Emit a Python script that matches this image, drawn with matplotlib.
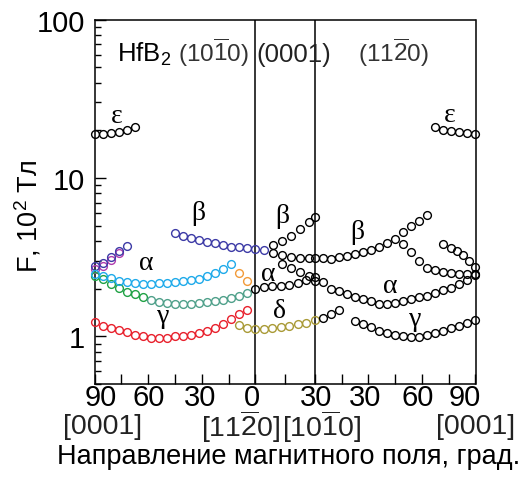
import numpy as np
import matplotlib
matplotlib.use('Agg')
import matplotlib.pyplot as plt
from matplotlib.ticker import FixedLocator, NullFormatter, FixedFormatter, LogLocator
from matplotlib.transforms import ScaledTranslation

plt.rcParams['font.family'] = ['Liberation Sans', 'DejaVu Sans']
plt.rcParams['mathtext.fontset'] = 'custom'
plt.rcParams['mathtext.rm'] = 'Liberation Sans'
plt.rcParams['mathtext.it'] = 'Liberation Sans:italic'
plt.rcParams['mathtext.bf'] = 'Liberation Sans:bold'

# ---------------- data (angle in degrees within each segment, F in 10^2 T) ----
# L: [0001] (90) -> [11-20] (0) ; M: [11-20] (0) -> [10-10] (30) ; R: [10-10] (0) -> [0001] (90)
eps_L_ang = [90, 85.5, 81, 76.5, 72, 67.5]
eps_L_F = [19.0, 19.0, 19.2, 19.5, 20.0, 21.0]
eps_R_ang = [67.5, 72, 76.5, 81, 85.5, 90]
eps_R_F = [21.0, 20.2, 19.7, 19.5, 19.3, 19.1]

beta_blue_L_ang = [45, 40.5, 36, 31.5, 27, 22.5, 18, 13.5, 9, 4.5, 0]
beta_blue_L_F = [4.51, 4.30, 4.17, 4.07, 3.97, 3.86, 3.75, 3.69, 3.66, 3.62, 3.57]
beta_blue_M_ang = [4.5]
beta_blue_M_F = [3.52]

beta90_blue_ang = [90, 85.5, 81, 76.5, 72]
beta90_blue_F = [2.78, 2.92, 3.19, 3.44, 3.73]
beta90_mag_ang = [90, 85.5, 81, 76.5]
beta90_mag_F = [2.68, 2.80, 3.04, 3.34]

alpha_cyan_ang = [90, 85.5, 81, 76.5, 72, 67.5, 63, 58.5, 54, 49.5, 45, 40.5, 36, 31.5, 27, 22.5, 18, 13.5]
alpha_cyan_F = [2.48, 2.41, 2.33, 2.24, 2.19, 2.16, 2.15, 2.15, 2.16, 2.18, 2.19, 2.23, 2.26, 2.31, 2.40, 2.51, 2.67, 2.87]
orange_ang = [9, 4.5]
orange_F = [2.50, 2.25]

green_ang = [90, 85.5, 81, 76.5, 72, 67.5, 63]
green_F = [2.41, 2.31, 2.15, 2.03, 1.91, 1.84, 1.76]
teal_ang = [58.5, 54, 49.5, 45, 40.5, 36, 31.5, 27, 22.5, 18, 13.5, 9, 4.5]
teal_F = [1.70, 1.64, 1.62, 1.60, 1.60, 1.60, 1.62, 1.64, 1.66, 1.70, 1.74, 1.81, 1.88]

gamma_red_ang = [90, 85.5, 81, 76.5, 72, 67.5, 63, 58.5, 54, 49.5, 45, 40.5, 36, 31.5, 27, 22.5, 18, 13.5, 9, 4.5]
gamma_red_F = [1.23, 1.17, 1.13, 1.10, 1.063, 1.026, 1.003, 0.978, 0.974, 0.978, 1.003, 1.012, 1.022, 1.052,
               1.088, 1.127, 1.20, 1.29, 1.39, 1.47]

delta_L_ang = [9, 4.5, 0]
delta_L_F = [1.18, 1.13, 1.11]
delta_M_ang = [4.3, 8.6, 12.9, 17.1, 21.4, 25.7, 30]
delta_M_F = [1.115, 1.13, 1.148, 1.17, 1.19, 1.22, 1.26]
delta_R_ang = [4.5, 9, 13.5]
delta_R_F = [1.31, 1.39, 1.47]

beta_M_ang = [9, 13.5, 18, 22.5, 27, 30]
beta_M_F = [3.80, 4.03, 4.30, 4.78, 5.27, 5.66]
flat_M_ang = [9, 13.5, 18, 22.5, 27, 30]
flat_M_F = [3.37, 3.25, 3.16, 3.13, 3.12, 3.12]
alpha2_M_ang = [13.5, 18, 22.5, 27, 30]
alpha2_M_F = [2.87, 2.70, 2.54, 2.42, 2.25]
alpha_M_ang = [0, 4.3, 8.6, 12.9, 17.1, 21.4, 25.7, 30]
alpha_M_F = [2.00, 2.04, 2.07, 2.09, 2.11, 2.17, 2.26, 2.38]

beta_R_ang = [4.5, 9, 13.5, 18, 22.5, 27, 31.5, 36, 40.5, 45, 49.5, 54, 58.5, 63]
beta_R_F = [3.12, 3.09, 3.19, 3.24, 3.32, 3.40, 3.53, 3.66, 3.90, 4.09, 4.55, 5.01, 5.39, 5.80]
beta3_R_ang = [49.5, 54, 58.5, 63, 67.5, 72, 76.5, 81, 85.5, 90]
beta3_R_F = [3.84, 3.42, 3.00, 2.71, 2.61, 2.56, 2.52, 2.48, 2.46, 2.48]
betaC_R_ang = [72, 76, 79.5, 83, 86.5, 90]
betaC_R_F = [3.81, 3.62, 3.47, 3.27, 3.00, 2.74]
alpha_R_ang = [4.5, 9, 13.5, 18, 22.5, 27, 31.5, 36, 40.5, 45, 49.5, 54, 58.5, 63, 67.5, 72, 76.5, 81, 85.5, 90]
alpha_R_F = [2.20, 2.00, 1.92, 1.86, 1.78, 1.73, 1.66, 1.60, 1.60, 1.63, 1.67, 1.73, 1.77, 1.81, 1.87, 1.95,
             2.02, 2.13, 2.28, 2.45]
gamma_R_ang = [22.5, 27, 31.5, 36, 40.5, 45, 49.5, 54, 58.5, 63, 67.5, 72, 76.5, 81, 85.5, 90]
gamma_R_F = [1.258, 1.20, 1.143, 1.088, 1.052, 1.026, 1.003, 0.986, 0.993, 1.022, 1.052, 1.083, 1.127, 1.17,
             1.217, 1.262]

x_tick_labels = ['90', '60', '30', '0', '30', '30', '60', '90']
dir_labels = ['[0001]', r'[11$\overline{2}$0]', r'[10$\overline{1}$0]', '[0001]']

# ---------------- geometry of the composite angle axis --------------------
KMID = 1.11


def xpos(seg, ang):
    ang = np.asarray(ang, float)
    if seg == 'L':
        return 90 - ang
    if seg == 'M':
        return 90 + KMID * ang
    return 90 + 30 * KMID + ang


XMAX = float(xpos('R', 90))

fig = plt.figure(figsize=(5.22, 4.85), dpi=100)
ax = fig.add_axes([94.7 / 522, 1 - 385 / 485, (475.5 - 94.7) / 522, (385 - 20.7) / 485])

C_BLUE = '#3c3aa6'
C_MAG = '#b03cae'
C_CYAN = '#1eaaea'
C_GREEN = '#1fa144'
C_TEAL = '#4fa08a'
C_RED = '#e8202c'
C_ORANGE = '#f29a38'
C_OLIVE = '#a99a36'
C_BLACK = 'black'

series = [
    ('L', eps_L_ang, eps_L_F, C_BLACK), ('R', eps_R_ang, eps_R_F, C_BLACK),
    ('L', beta_blue_L_ang, beta_blue_L_F, C_BLUE), ('M', beta_blue_M_ang, beta_blue_M_F, C_BLUE),
    ('L', beta90_mag_ang, beta90_mag_F, C_MAG), ('L', beta90_blue_ang, beta90_blue_F, C_BLUE),
    ('L', green_ang, green_F, C_GREEN), ('L', teal_ang, teal_F, C_TEAL),
    ('L', alpha_cyan_ang, alpha_cyan_F, C_CYAN), ('L', orange_ang, orange_F, C_ORANGE),
    ('L', gamma_red_ang, gamma_red_F, C_RED),
    ('L', delta_L_ang, delta_L_F, C_OLIVE), ('M', delta_M_ang, delta_M_F, C_OLIVE),
    ('R', delta_R_ang, delta_R_F, C_BLACK),
    ('M', beta_M_ang, beta_M_F, C_BLACK), ('M', flat_M_ang, flat_M_F, C_BLACK),
    ('M', alpha2_M_ang, alpha2_M_F, C_BLACK), ('M', alpha_M_ang, alpha_M_F, C_BLACK),
    ('R', beta_R_ang, beta_R_F, C_BLACK), ('R', beta3_R_ang, beta3_R_F, C_BLACK),
    ('R', betaC_R_ang, betaC_R_F, C_BLACK), ('R', alpha_R_ang, alpha_R_F, C_BLACK),
    ('R', gamma_R_ang, gamma_R_F, C_BLACK),
]
for seg, a, f, c in series:
    ax.plot(xpos(seg, a), f, 'o', mfc='none', mec=c, ms=5.6, mew=1.0, clip_on=False, zorder=3)

ax.axvline(xpos('M', 0), color='black', lw=1.1, zorder=2)
ax.axvline(xpos('M', 30), color='black', lw=1.1, zorder=2)

ax.set_yscale('log')
ax.set_ylim(0.5, 100)
ax.set_xlim(0, XMAX)

# y ticks
ax.yaxis.set_major_locator(FixedLocator([1, 10, 100]))
ax.yaxis.set_major_formatter(FixedFormatter(['1', '10', '100']))
ax.yaxis.set_minor_locator(LogLocator(base=10, subs=np.arange(2, 10)))
ax.yaxis.set_minor_formatter(NullFormatter())
ax.tick_params(axis='y', which='major', direction='in', length=8, width=1.0, labelsize=21, pad=7,
               right=False)
ax.tick_params(axis='y', which='minor', direction='in', length=4.5, width=1.0, right=False)

# x ticks
major_x = [float(xpos('L', a)) for a in (90, 60, 30, 0)] + [float(xpos('M', 30))] + \
          [float(xpos('R', a)) for a in (30, 60, 90)]
minor_x = [float(xpos('L', a)) for a in (75, 45, 15)] + [float(xpos('M', 15))] + \
          [float(xpos('R', a)) for a in (15, 45, 75)]
ax.xaxis.set_major_locator(FixedLocator(major_x))
ax.xaxis.set_major_formatter(FixedFormatter(x_tick_labels))
ax.xaxis.set_minor_locator(FixedLocator(minor_x))
ax.tick_params(axis='x', which='both', direction='in', length=7, width=1.0, top=False)
ax.tick_params(axis='x', which='major', labelsize=21, pad=-1)

label_shift_px = [6, 0, -2, -3, 1, -3, -4, -11]
for lab, dx in zip(ax.get_xticklabels(), label_shift_px):
    lab.set_transform(lab.get_transform() + ScaledTranslation(dx / 100, 0, fig.dpi_scale_trans))

for sp in ax.spines.values():
    sp.set_linewidth(1.1)

# direction labels below the tick labels
dir_x = [0, float(xpos('M', 0)), float(xpos('M', 30)), XMAX]
dir_shift_px = [8, -15, 7, 0]
for xv, txt, dx in zip(dir_x, dir_labels, dir_shift_px):
    t = ax.text(xv, -0.115, txt, ha='center', va='center', fontsize=20.5, color='#222222')
    t.set_transform(ax.get_xaxis_transform() + ScaledTranslation(dx / 100, 0, fig.dpi_scale_trans))

fig.text(0.552, 0.058, 'Направление магнитного поля, град.', ha='center', va='center', fontsize=19.5)
ax.text(-0.175, 0.462, 'F, 10$^2$ Тл', rotation=90, ha='center', va='center', fontsize=19.5,
        transform=ax.transAxes)

# top labels
top_y = 0.8875
ax.text(0.058, top_y, 'HfB$_2$', transform=ax.transAxes, ha='left', va='baseline', fontsize=18.5)
ax.text(0.219, top_y, r'(10$\overline{1}$0)', transform=ax.transAxes, ha='left', va='baseline',
        fontsize=17.5, color='#333333')
ax.text(0.424, top_y, '(0001)', transform=ax.transAxes, ha='left', va='baseline', fontsize=18.5,
        color='#222222')
ax.text(0.6925, top_y, r'(11$\overline{2}$0)', transform=ax.transAxes, ha='left', va='baseline',
        fontsize=17.5, color='#333333')

# branch labels (Greek, serif)
greek = [('ε', 116.7, 116.7), ('ε', 449.3, 115), ('β', 198.3, 213.3), ('β', 282.7, 216.7),
         ('β', 357, 233), ('α', 146.7, 263.3), ('α', 268.3, 275), ('α', 390, 286.7),
         ('γ', 163.3, 316.7), ('γ', 415, 320), ('δ', 279.3, 311.7)]
for s, px, py in greek:
    ax.text((px - 94.7) / 380.8, 1 - (py - 20.7) / 364.3, s, transform=ax.transAxes, ha='center',
            va='center', fontsize=20, family=['Liberation Serif', 'DejaVu Serif'])

fig.savefig('out.png', dpi=100)
